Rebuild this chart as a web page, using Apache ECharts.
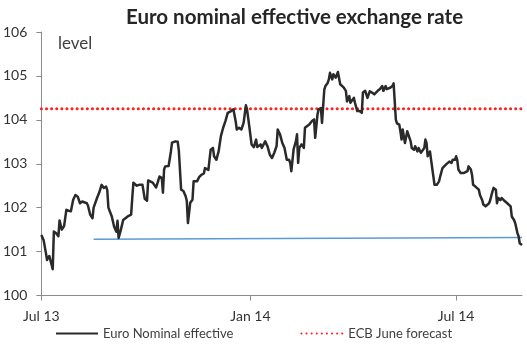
<!DOCTYPE html>
<html><head><meta charset="utf-8">
<script src="https://cdn.jsdelivr.net/npm/echarts@6/dist/echarts.min.js"></script>
<style>html,body{margin:0;padding:0;background:#fff}#c{width:527px;height:348px}</style>
</head><body><div id="c"></div>
<script>
// x values: days since 1 Jul 2013
const days = [
0,2,4,5,7,8,10,11,13,15,
16,18,20,22,24,26,28,30,32,34,
36,37,40,41,43,45,46,49,51,53,
55,57,58,59,62,64,66,67,68,70,
72,74,76,79,80,81,84,86,87,89,
91,93,94,98,101,102,104,106,107,108,
109,112,114,115,118,120,121,123,125,127,
128,129,131,133,134,137,139,141,143,144,
145,147,149,151,152,154,156,158,160,162,
164,167,169,171,172,174,176,178,180,181,
183,185,187,189,190,193,194,197,199,201,
203,205,207,208,210,212,214,216,218,219,
220,222,224,225,226,227,229,231,232,234,
236,238,239,240,241,243,244,246,247,249,
250,252,253,254,256,257,259,261,263,266,
268,269,271,272,275,276,278,280,282,283,
285,287,289,291,293,296,298,300,301,303,
304,307,309,310,312,313,315,316,317,318,
320,322,323,325,326,328,329,331,332,334,
335,337,338,339,340,342,343,345,346,348,
350,351,353,354,356,357,359,360,361,362,
364,365,366,367,369,372,373,375,376,378,
379,380,382,383,385,386,388,389,391,392,
394,395,397,398,400,401,402,404,405,407,
408,410,411,413,414,416,417,419,420,421,
423];
const neer = [
101.38,101.26,100.97,100.81,100.9,100.88,100.6,101.46,101.42,101.35,
101.71,101.5,101.58,101.95,101.93,101.92,102.18,102.29,102.25,102.1,
102.14,102.16,102.1,102.05,101.84,101.76,102.0,102.22,102.35,102.52,
102.45,102.48,102.4,102.0,101.8,101.57,101.45,101.7,101.31,101.5,
101.72,101.76,101.8,101.84,102.22,102.57,102.5,102.52,102.48,102.52,
102.2,102.16,102.62,102.57,102.46,102.54,102.71,102.68,102.34,102.87,
102.94,102.95,103.28,103.48,103.51,103.5,103.3,102.41,102.38,102.26,
102.15,101.65,102.11,102.18,102.6,102.6,102.7,102.75,102.78,102.9,
102.94,102.86,103.32,103.36,103.17,103.09,103.28,103.63,103.82,103.97,
104.16,104.2,104.24,103.97,103.78,103.82,103.78,103.93,104.33,104.24,
103.85,103.44,103.38,103.55,103.38,103.44,103.36,103.51,103.4,103.21,
103.13,103.25,103.4,103.78,103.67,103.48,103.36,103.09,103.09,103.02,
102.83,103.33,103.51,103.67,103.02,103.36,103.44,103.36,103.82,103.86,
103.9,103.97,103.93,104.01,103.59,104.12,104.24,104.27,103.93,104.69,
104.77,104.84,104.92,105.07,104.92,105.04,104.96,105.09,104.81,104.74,
104.66,104.42,104.54,104.39,104.5,104.39,104.2,104.2,104.16,104.62,
104.66,104.5,104.65,104.62,104.58,104.66,104.7,104.77,104.66,104.77,
104.7,104.73,104.77,104.83,104.0,103.92,103.89,103.74,103.55,103.78,
103.47,103.74,103.7,103.51,103.36,103.32,103.4,103.28,103.36,103.25,
103.25,103.36,103.55,103.47,103.17,103.28,103.09,102.71,102.52,102.52,
102.6,102.71,102.9,102.94,102.98,102.94,103.05,103.09,103.02,103.09,
103.09,103.17,103.09,102.87,102.79,102.79,102.75,102.83,102.94,102.87,
102.75,102.52,102.48,102.48,102.41,102.29,102.17,102.07,102.03,102.03,
102.1,102.17,102.37,102.45,102.41,102.1,102.22,102.17,102.22,102.17,
102.14,102.1,102.14,102.03,101.8,101.72,101.65,101.42,101.35,101.19,
101.15];
const forecastDays = [0, 423];
const forecastValues = [104.25, 104.25];
const supportDays = [46, 423];
const supportValues = [101.28, 101.32];
const tickDays = [0, 184, 365];
const tickLabels = ['Jul 13', 'Jan 14', 'Jul 14'];
const seriesNames = ['Euro Nominal effective', 'ECB June forecast'];

const zip = (a, b) => a.map((d, i) => [d, b[i]]);
const font = 'Lato, "Open Sans", sans-serif';
const chart = echarts.init(document.getElementById('c'), null, {renderer: 'canvas'});
chart.setOption({
  animation: false,
  textStyle: {fontFamily: font},
  title: {
    text: 'Euro nominal effective exchange rate',
    left: 121, top: 2,
    textStyle: {fontFamily: font, fontWeight: 'bold', fontSize: 20.5, color: '#262626'}
  },
  graphic: [{
    type: 'text', left: 58, top: 35,
    style: {text: 'level', font: '17px ' + font, fill: '#404040'}
  }],
  grid: {left: 41, right: 5, top: 32, bottom: 52.5, containLabel: false},
  legend: {
    data: seriesNames,
    left: 55, top: 327, padding: 0, itemWidth: 42, itemHeight: 12, itemGap: 67,
    itemStyle: {opacity: 0},
    textStyle: {fontFamily: font, fontSize: 13, color: '#404040'}
  },
  xAxis: {
    type: 'value', min: 0, max: 423,
    splitLine: {show: false},
    axisLine: {lineStyle: {color: '#8c8c8c', width: 1}},
    axisTick: {show: true, length: 5, customValues: tickDays, lineStyle: {color: '#8c8c8c'}},
    axisLabel: {
      customValues: tickDays, margin: 14,
      formatter: v => tickLabels[tickDays.indexOf(v)] || '',
      fontFamily: font, fontSize: 14, color: '#333'
    }
  },
  yAxis: {
    type: 'value', min: 100, max: 106, interval: 1,
    splitLine: {show: false},
    axisLine: {show: true, lineStyle: {color: '#8c8c8c', width: 1}},
    axisTick: {show: true, length: 5, lineStyle: {color: '#8c8c8c'}},
    axisLabel: {margin: 14, fontFamily: font, fontSize: 14, color: '#333'}
  },
  series: [
    {
      name: seriesNames[0], type: 'line', data: zip(days, neer),
      symbol: 'none', z: 3,
      lineStyle: {color: '#2a2a2a', width: 2.5, join: 'round'},
      itemStyle: {color: '#2a2a2a'}
    },
    {
      name: seriesNames[1], type: 'line', data: zip(forecastDays, forecastValues),
      symbol: 'none', z: 2,
      lineStyle: {color: '#ff2020', width: 3, type: [0.1, 5], cap: 'round'},
      itemStyle: {color: '#ff2020'}
    },
    {
      name: 'trend', type: 'line', data: zip(supportDays, supportValues),
      symbol: 'none', z: 2,
      lineStyle: {color: '#5b9bd5', width: 1.5},
      itemStyle: {color: '#5b9bd5'}
    }
  ]
});
</script></body></html>
